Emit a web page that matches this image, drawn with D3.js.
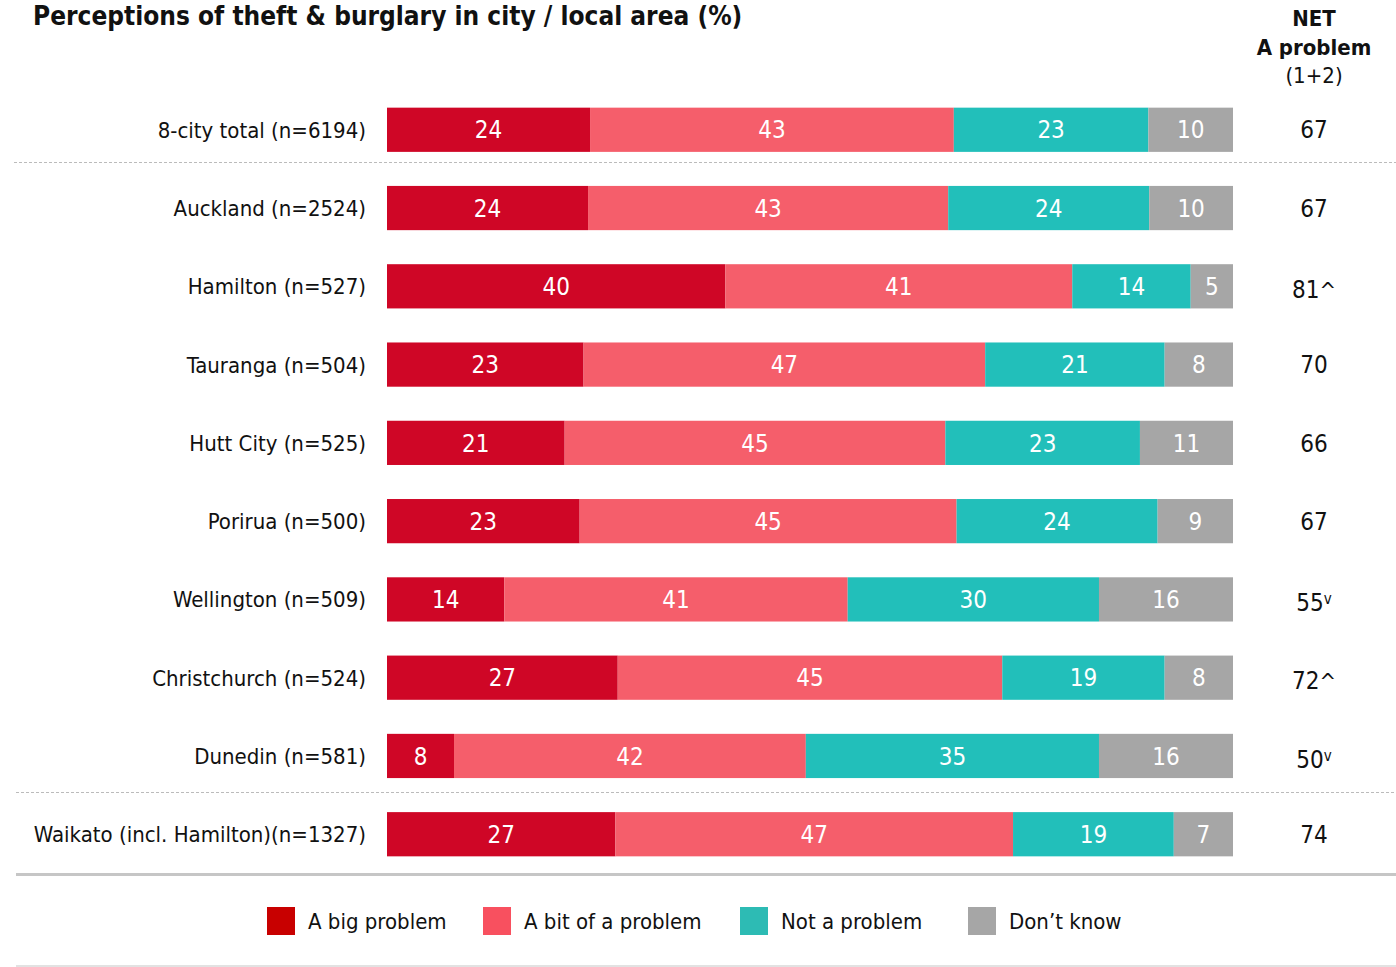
<!DOCTYPE html>
<html>
<head>
<meta charset="utf-8">
<script src="https://cdn.jsdelivr.net/npm/d3@7"></script>
<style>
  body { margin: 0; background: #fff; }
  text { font-family: "Liberation Sans Narrow", "DejaVu Sans Condensed", Roboto, sans-serif; }
</style>
</head>
<body>
<script>
const categories = ['8-city total (n=6194)', 'Auckland (n=2524)', 'Hamilton (n=527)', 'Tauranga (n=504)',
  'Hutt City (n=525)', 'Porirua (n=500)', 'Wellington (n=509)', 'Christchurch (n=524)',
  'Dunedin (n=581)', 'Waikato (incl. Hamilton)(n=1327)'];
const bigProblem = [24, 24, 40, 23, 21, 23, 14, 27, 8, 27];
const bitProblem = [43, 43, 41, 47, 45, 45, 41, 45, 42, 47];
const notProblem = [23, 24, 14, 21, 23, 24, 30, 19, 35, 19];
const dontKnow = [10, 10, 5, 8, 11, 9, 16, 8, 16, 7];
const netProblem = ['67', '67', '81', '70', '66', '67', '55', '72', '50', '74'];
const netMark = ['', '', '^', '', '', '', 'v', '^', 'v', ''];
const seriesNames = ['A big problem', 'A bit of a problem', 'Not a problem', 'Don\u2019t know'];
const seriesColors = ['#CF0626', '#F55E6B', '#22BFBA', '#A6A6A6'];
const legendColors = ['#C80000', '#F8505F', '#2DBBB4', '#A6A6A6'];

const W = 1396, H = 967;
const svg = d3.select('body').append('svg').attr('width', W).attr('height', H);

const x0 = 387, x1 = 1233;
const y = d3.scaleBand().domain(categories).range([92, 872]).paddingInner(0.435).paddingOuter(0.2);

// title (sits at the very top like the original)
svg.append('text').attr('x', 33).attr('y', 25)
  .style('font-size', '26px').style('font-weight', 'bold').style('fill', '#111')
  .text('Perceptions of theft & burglary in city / local area (%)');

// NET header
const hx = 1314;
svg.append('text').attr('x', hx).attr('y', 26).attr('text-anchor', 'middle')
  .style('font-size', '22px').style('font-weight', 'bold').style('fill', '#111').text('NET');
svg.append('text').attr('x', hx).attr('y', 55).attr('text-anchor', 'middle')
  .style('font-size', '22px').style('font-weight', 'bold').style('fill', '#111').text('A problem');
svg.append('text').attr('x', hx).attr('y', 83).attr('text-anchor', 'middle')
  .style('font-size', '22px').style('fill', '#111').text('(1+2)');

const rows = categories.map((c, i) => {
  const vals = [bigProblem[i], bitProblem[i], notProblem[i], dontKnow[i]];
  const xs = d3.scaleLinear().domain([0, d3.sum(vals)]).range([x0, x1]);
  let acc = 0;
  const segs = vals.map((v, k) => { const s = { v, k, a: acc, b: acc + v }; acc += v; return s; });
  return { c, i, xs, segs };
});

const g = svg.selectAll('.row').data(rows).enter().append('g').attr('class', 'row');

g.selectAll('rect').data(r => r.segs.map(s => ({ ...s, r }))).enter().append('rect')
  .attr('x', d => d.r.xs(d.a))
  .attr('y', d => y(d.r.c))
  .attr('width', d => d.r.xs(d.b) - d.r.xs(d.a))
  .attr('height', y.bandwidth())
  .attr('fill', d => seriesColors[d.k]);

g.selectAll('.val').data(r => r.segs.map(s => ({ ...s, r }))).enter().append('text')
  .attr('class', 'val')
  .attr('x', d => (d.r.xs(d.a) + d.r.xs(d.b)) / 2)
  .attr('y', d => y(d.r.c) + y.bandwidth() / 2)
  .attr('dy', '0.36em')
  .attr('text-anchor', 'middle')
  .style('font-size', '24px').style('fill', '#fff')
  .text(d => d.v);

g.append('text')
  .attr('x', 366).attr('y', r => y(r.c) + y.bandwidth() / 2).attr('dy', '0.36em')
  .attr('text-anchor', 'end')
  .style('font-size', '22px').style('fill', '#111')
  .text(r => r.c);

const net = g.append('text')
  .attr('x', hx).attr('y', r => y(r.c) + y.bandwidth() / 2 + (netMark[r.i] ? 3 : 0)).attr('dy', '0.36em')
  .attr('text-anchor', 'middle')
  .style('font-size', '24px').style('fill', '#111');
net.append('tspan').text(r => netProblem[r.i]);
net.append('tspan').attr('dy', r => netMark[r.i] === 'v' ? '-0.45em' : '0')
  .style('font-size', r => netMark[r.i] === 'v' ? '15px' : '22px')
  .text(r => netMark[r.i]);

// separators
const sepY1 = Math.round(y(categories[0]) + y.bandwidth() + 10) + 0.5;
const sepY2 = Math.round(y(categories[8]) + y.bandwidth() + 14) + 0.5;
svg.append('line').attr('x1', 14).attr('x2', W).attr('y1', sepY1).attr('y2', sepY1)
  .attr('stroke', '#bbb').attr('stroke-dasharray', '3,2').attr('stroke-width', 1);
svg.append('line').attr('x1', 16).attr('x2', W).attr('y1', sepY2).attr('y2', sepY2)
  .attr('stroke', '#bbb').attr('stroke-dasharray', '3,2').attr('stroke-width', 1);
svg.append('line').attr('x1', 16).attr('x2', W).attr('y1', 874.5).attr('y2', 874.5)
  .attr('stroke', '#c6c6c6').attr('stroke-width', 3);
svg.append('line').attr('x1', 16).attr('x2', W).attr('y1', 966).attr('y2', 966)
  .attr('stroke', '#e2e2e2').attr('stroke-width', 2);

// legend
const legendX = [267, 483, 740, 968];
const lg = svg.selectAll('.lg').data(seriesNames).enter().append('g')
  .attr('transform', (d, i) => `translate(${legendX[i]},907)`);
lg.append('rect').attr('width', 28).attr('height', 28).attr('fill', (d, i) => legendColors[i]);
lg.append('text').attr('x', 41).attr('y', 14).attr('dy', '0.36em')
  .style('font-size', '22px').style('fill', '#111').text(d => d);
</script>
</body>
</html>
